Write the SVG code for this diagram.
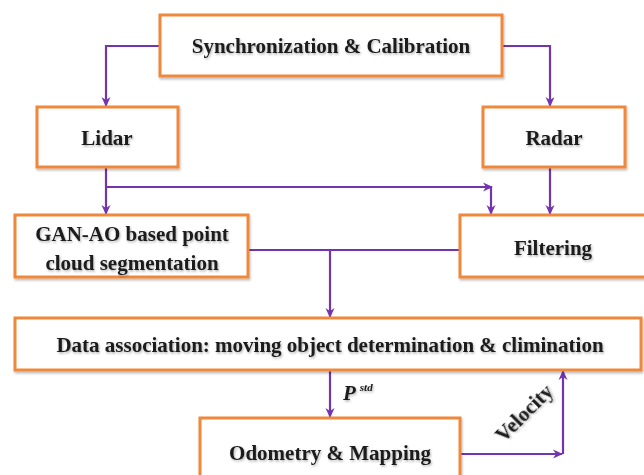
<svg xmlns="http://www.w3.org/2000/svg" width="644" height="475" viewBox="0 0 644 475">
<defs>
<marker id="ah" markerWidth="12" markerHeight="12" refX="9" refY="6" orient="auto" markerUnits="userSpaceOnUse">
<path d="M0,1.5 L10,6 L0,10.5 L3,6 Z" fill="#7434B0"/>
</marker>
<filter id="sh" x="-5%" y="-5%" width="110%" height="120%">
<feDropShadow dx="1" dy="2" stdDeviation="1.2" flood-color="#000" flood-opacity="0.25"/>
</filter>
<filter id="tsh" x="-5%" y="-20%" width="110%" height="150%">
<feDropShadow dx="1" dy="1.5" stdDeviation="0.8" flood-color="#000" flood-opacity="0.3"/>
</filter>
</defs>
<style>
.box{fill:#fff;stroke:#F0883A;stroke-width:3;filter:url(#sh)}
.t{font-family:"Liberation Serif","Times New Roman",serif;font-weight:bold;font-size:21px;fill:#1a1a1a;text-anchor:middle;filter:url(#tsh)}
.c{fill:none;stroke:#7434B0;stroke-width:2.2}
</style>
<rect width="644" height="475" fill="#fff"/>
<g id="connectors">
<path class="c" d="M160,46 H106 V106" marker-end="url(#ah)"/>
<path class="c" d="M502,46 H550 V106" marker-end="url(#ah)"/>
<path class="c" d="M106,167 V214" marker-end="url(#ah)"/>
<path class="c" d="M106,187 H492" marker-end="url(#ah)"/>
<path class="c" d="M491,187 V214" marker-end="url(#ah)"/>
<path class="c" d="M550,167 V214" marker-end="url(#ah)"/>
<path class="c" d="M248,250 H460"/>
<path class="c" d="M330,250 V317" marker-end="url(#ah)"/>
<path class="c" d="M330,370 V417" marker-end="url(#ah)"/>
<path class="c" d="M460,454 H562" marker-end="url(#ah)"/>
<path class="c" d="M563,454 V371" marker-end="url(#ah)"/>
<text x="343" y="400" font-family="Liberation Serif,serif" font-weight="bold" font-style="italic" font-size="21" fill="#1a1a1a" filter="url(#tsh)">P<tspan font-size="11" dy="-9" dx="4">std</tspan></text>
<text x="0" y="0" class="t" font-size="18" transform="translate(529,418) rotate(-45)">Velocity</text>
</g>
<g id="sync"><rect class="box" x="160" y="15" width="342" height="61"/><text class="t" x="331" y="53">Synchronization &amp; Calibration</text></g>
<g id="lidar"><rect class="box" x="37" y="107" width="141" height="60"/><text class="t" x="107" y="145">Lidar</text></g>
<g id="radar"><rect class="box" x="483" y="107" width="142" height="60"/><text class="t" x="554" y="145">Radar</text></g>
<g id="gan"><rect class="box" x="15" y="215" width="233" height="62"/><text class="t" x="132" y="241">GAN-AO based point</text><text class="t" x="132" y="270">cloud segmentation</text></g>
<g id="filtering"><rect class="box" x="460" y="215" width="190" height="62"/><text class="t" x="553" y="255">Filtering</text></g>
<g id="data"><rect class="box" x="15" y="318" width="626" height="52"/><text class="t" x="330" y="352">Data association: moving object determination &amp; climination</text></g>
<g id="odometry"><rect class="box" x="200" y="418" width="260" height="65"/><text class="t" x="330" y="460">Odometry &amp; Mapping</text></g>
</svg>
